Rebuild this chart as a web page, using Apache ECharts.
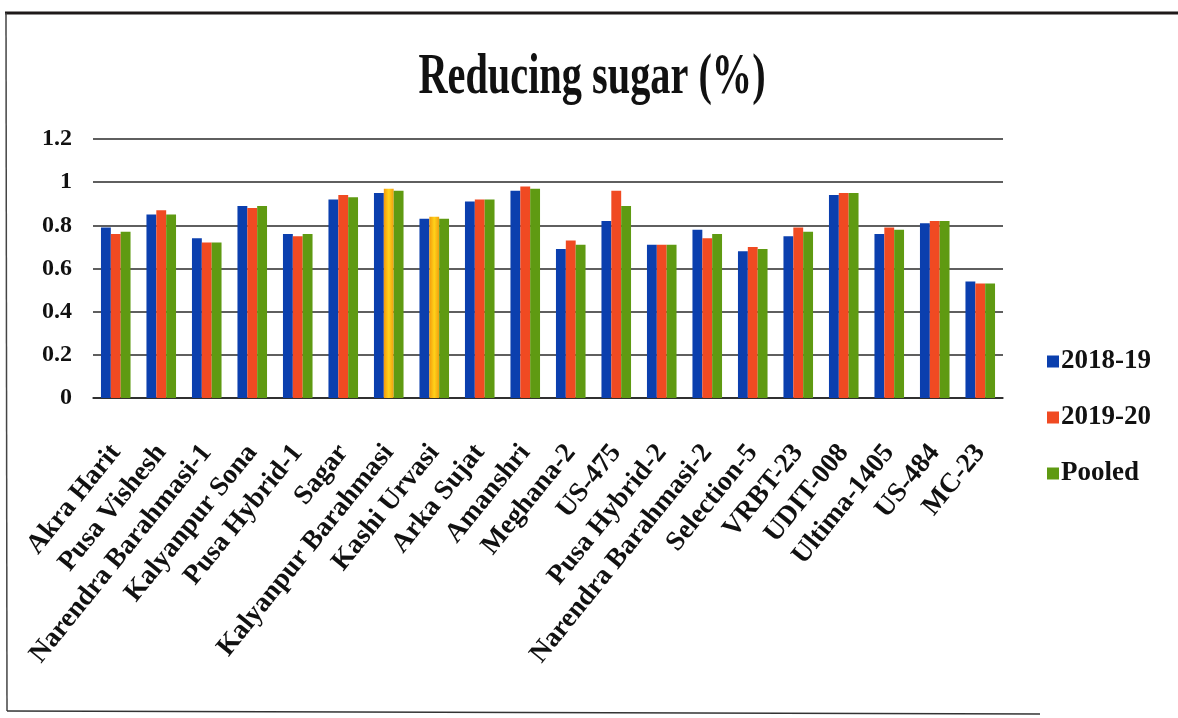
<!DOCTYPE html>
<html>
<head>
<meta charset="utf-8">
<title>Reducing sugar (%)</title>
<script src="https://cdn.jsdelivr.net/npm/echarts@6/dist/echarts.min.js"></script>
<style>
  html, body { margin: 0; padding: 0; background: #ffffff; }
  #chart { width: 1178px; height: 718px; }
</style>
</head>
<body>
<div id="chart"></div>
<script>
// Genotypes evaluated
const categories = [
  'Akra Harit', 'Pusa Vishesh', 'Narendra Barahmasi-1', 'Kalyanpur Sona', 'Pusa Hybrid-1',
  'Sagar', 'Kalyanpur Barahmasi', 'Kashi Urvasi', 'Arka Sujat', 'Amanshri',
  'Meghana-2', 'US-475', 'Pusa Hybrid-2', 'Narendra Barahmasi-2', 'Selection-5',
  'VRBT-23', 'UDIT-008', 'Ultima-1405', 'US-484', 'MC-23'
];

// Reducing sugar (%) per season and pooled
const season2018 = [0.79, 0.85, 0.74, 0.89, 0.76, 0.92, 0.95, 0.83, 0.91, 0.96,
                    0.69, 0.82, 0.71, 0.78, 0.68, 0.75, 0.94, 0.76, 0.81, 0.54];
const season2019 = [0.76, 0.87, 0.72, 0.88, 0.75, 0.94, 0.97, 0.84, 0.92, 0.98,
                    0.73, 0.96, 0.71, 0.74, 0.70, 0.79, 0.95, 0.79, 0.82, 0.53];
const pooled     = [0.77, 0.85, 0.72, 0.89, 0.76, 0.93, 0.96, 0.83, 0.92, 0.97,
                    0.71, 0.89, 0.71, 0.76, 0.69, 0.77, 0.95, 0.78, 0.82, 0.53];

const seriesNames = ['2018-19', '2019-20', 'Pooled'];

// Value axis range
const yMin = 0, yMax = 1.2, yStep = 0.2;

const serif = '"Liberation Serif", "Times New Roman", serif';
const colors = ['#0b3fae', '#f04a22', '#5f9a12'];

// 2019-20 bars printed in yellow for two genotypes
const yellowBar = {
  type: 'linear', x: 0, y: 0, x2: 1, y2: 0,
  colorStops: [
    { offset: 0, color: '#f29a0c' },
    { offset: 0.5, color: '#ffd21a' },
    { offset: 1, color: '#f0a010' }
  ]
};
const yellowCats = ['Kalyanpur Barahmasi', 'Kashi Urvasi'];

function barData(values, recolor) {
  return values.map((v, i) => {
    if (recolor && yellowCats.indexOf(categories[i]) >= 0) {
      return { value: v, itemStyle: { color: yellowBar } };
    }
    return v;
  });
}

const chart = echarts.init(document.getElementById('chart'), null, { renderer: 'canvas' });

chart.setOption({
  animation: false,
  backgroundColor: '#ffffff',
  color: colors,
  graphic: [
    // frame
    { type: 'line', shape: { x1: 5, y1: 13, x2: 1178, y2: 13 },
      style: { stroke: '#1e1a1a', lineWidth: 3 } },
    { type: 'line', shape: { x1: 6, y1: 13, x2: 7, y2: 711 },
      style: { stroke: '#444', lineWidth: 1.5 } },
    { type: 'line', shape: { x1: 7, y1: 711, x2: 1040, y2: 714 },
      style: { stroke: '#333', lineWidth: 1.5 } },
    // title
    { type: 'text', x: 592, y: 79, scaleX: 0.72,
      style: { x: 0, y: 0, text: 'Reducing sugar (%)', align: 'center', verticalAlign: 'middle',
               font: 'bold 56px ' + serif, fill: '#111' } }
  ],
  legend: {
    orient: 'vertical',
    left: 1042,
    top: 343,
    icon: 'rect',
    itemWidth: 12,
    itemHeight: 12,
    itemGap: 29,
    data: seriesNames,
    textStyle: { fontFamily: serif, fontWeight: 'bold', fontSize: 27, color: '#111',
                 padding: [0, 0, 0, -3], lineHeight: 27 }
  },
  grid: { left: 93, right: 175, top: 139, bottom: 320, containLabel: false },
  xAxis: {
    type: 'category',
    data: categories,
    axisLine: { show: true, lineStyle: { color: '#222', width: 1.5 } },
    axisTick: { show: false },
    axisLabel: {
      interval: 0,
      rotate: 51,
      margin: 50,
      fontFamily: serif,
      fontWeight: 'bold',
      fontSize: 27.5,
      color: '#111'
    }
  },
  yAxis: {
    type: 'value',
    min: yMin,
    max: yMax,
    interval: yStep,
    axisLine: { show: false },
    axisTick: { show: false },
    splitLine: { lineStyle: { color: '#2a2a2a', width: 1.5 } },
    axisLabel: {
      margin: 21,
      fontFamily: serif,
      fontWeight: 'bold',
      fontSize: 24,
      color: '#111'
    }
  },
  series: [
    { name: seriesNames[0], type: 'bar', data: barData(season2018, false),
      barGap: '0%', barCategoryGap: '35%' },
    { name: seriesNames[1], type: 'bar', data: barData(season2019, true),
      barGap: '0%', barCategoryGap: '35%' },
    { name: seriesNames[2], type: 'bar', data: barData(pooled, false),
      barGap: '0%', barCategoryGap: '35%' }
  ]
});
</script>
</body>
</html>
